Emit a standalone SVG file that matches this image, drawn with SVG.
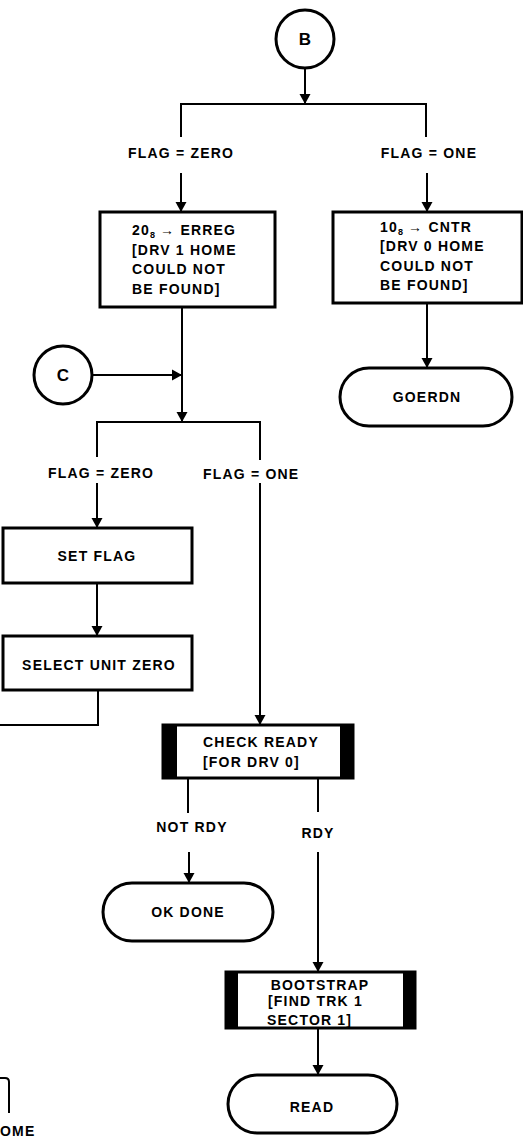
<svg xmlns="http://www.w3.org/2000/svg" width="523" height="1137" viewBox="0 0 523 1137">
<style>
text{font-family:"Liberation Sans",Arial,sans-serif;font-weight:bold;font-size:14px;letter-spacing:1.2px;fill:#000}
.c{text-anchor:middle}
.box{fill:#fff;stroke:#000;stroke-width:3}
.term{fill:#fff;stroke:#000;stroke-width:3}
.bar{fill:#000}
.ln{fill:none;stroke:#000;stroke-width:2}
.sub{font-size:9px;letter-spacing:0}
</style>
<defs>
<marker id="ah" markerUnits="userSpaceOnUse" markerWidth="10" markerHeight="14" viewBox="0 0 10 14" refX="10" refY="7" orient="auto">
<path d="M0,1.5 L10,7 L0,12.5 Z" fill="#000"/>
</marker>
</defs>
<g id="connectors">
<path class="ln" d="M305 69 V104" marker-end="url(#ah)"/>
<path class="ln" d="M181 137 V104 H426 V137"/>
<path class="ln" d="M181 173 V212" marker-end="url(#ah)"/>
<path class="ln" d="M427 173 V212" marker-end="url(#ah)"/>
<path class="ln" d="M427 303 V368" marker-end="url(#ah)" stroke-width="3"/>
<path class="ln" d="M182 307 V422" marker-end="url(#ah)"/>
<path class="ln" d="M93 375 H182" marker-end="url(#ah)"/>
<path class="ln" d="M97 457 V422 H260 V460"/>
<path class="ln" d="M97 483 V528" marker-end="url(#ah)"/>
<path class="ln" d="M260 483 V725" marker-end="url(#ah)"/>
<path class="ln" d="M97 583 V636" marker-end="url(#ah)" stroke-width="3"/>
<path class="ln" d="M98 690 V725 H0"/>
<path class="ln" d="M188 778 V813"/>
<path class="ln" d="M189 852 V883" marker-end="url(#ah)"/>
<path class="ln" d="M318 778 V812"/>
<path class="ln" d="M318 852 V972" marker-end="url(#ah)"/>
<path class="ln" d="M318 1028 V1075" marker-end="url(#ah)"/>
<path class="ln" d="M0 1078 H5 Q9 1078 9 1082 V1113"/>
</g>
<g id="nodeB">
<circle cx="305" cy="39" r="29" fill="#fff" stroke="#000" stroke-width="3"/>
<text class="c" x="305" y="45" style="font-size:17px;letter-spacing:0">B</text>
</g>
<g id="labelFlagZero1"><text class="c" x="181" y="158">FLAG = ZERO</text></g>
<g id="labelFlagOne1"><text class="c" x="429" y="158">FLAG = ONE</text></g>
<g id="nodeErreg">
<rect class="box" x="100" y="212" width="175" height="95"/>
<text x="132" y="235">20<tspan class="sub" dy="3">8</tspan><tspan dy="-3"> → ERREG</tspan></text>
<text x="132" y="255">[DRV 1 HOME</text>
<text x="132" y="274">COULD NOT</text>
<text x="132" y="294">BE FOUND]</text>
</g>
<g id="nodeCntr">
<rect class="box" x="333" y="212" width="189" height="91"/>
<text x="380" y="232">10<tspan class="sub" dy="3">8</tspan><tspan dy="-3"> → CNTR</tspan></text>
<text x="380" y="251">[DRV 0 HOME</text>
<text x="380" y="271">COULD NOT</text>
<text x="380" y="290">BE FOUND]</text>
</g>
<g id="nodeGoerdn">
<rect class="term" x="340" y="368" width="172" height="58" rx="29"/>
<text class="c" x="427" y="402">GOERDN</text>
</g>
<g id="nodeC">
<circle cx="63" cy="375" r="29" fill="#fff" stroke="#000" stroke-width="3"/>
<text class="c" x="63" y="381" style="font-size:17px;letter-spacing:0">C</text>
</g>
<g id="labelFlagZero2"><text class="c" x="101" y="478">FLAG = ZERO</text></g>
<g id="labelFlagOne2"><text x="203" y="479">FLAG = ONE</text></g>
<g id="nodeSetFlag">
<rect class="box" x="3" y="528" width="189" height="55"/>
<text class="c" x="97" y="561">SET FLAG</text>
</g>
<g id="nodeSelectUnit">
<rect class="box" x="3" y="636" width="189" height="54"/>
<text class="c" x="99" y="670">SELECT UNIT ZERO</text>
</g>
<g id="nodeCheckReady">
<rect class="box" x="163" y="725" width="190" height="53"/>
<rect class="bar" x="163" y="725" width="14" height="53"/>
<rect class="bar" x="340" y="725" width="13" height="53"/>
<text class="c" x="261" y="747">CHECK READY</text>
<text x="203" y="767">[FOR DRV 0]</text>
</g>
<g id="labelNotRdy"><text class="c" x="192" y="832">NOT RDY</text></g>
<g id="labelRdy"><text class="c" x="318" y="838">RDY</text></g>
<g id="nodeOkDone">
<rect class="term" x="103" y="883" width="170" height="58" rx="29"/>
<text class="c" x="188" y="917">OK DONE</text>
</g>
<g id="nodeBootstrap">
<rect class="box" x="226" y="972" width="189" height="56"/>
<rect class="bar" x="226" y="972" width="12" height="56"/>
<rect class="bar" x="403" y="972" width="12" height="56"/>
<text class="c" x="320" y="990">BOOTSTRAP</text>
<text x="268" y="1006">[FIND TRK 1</text>
<text x="267" y="1025">SECTOR 1]</text>
</g>
<g id="nodeRead">
<rect class="term" x="228" y="1075" width="169" height="58" rx="29"/>
<text class="c" x="312" y="1112">READ</text>
</g>
<g id="fragment"><text x="0" y="1136">OME</text></g>
</svg>
